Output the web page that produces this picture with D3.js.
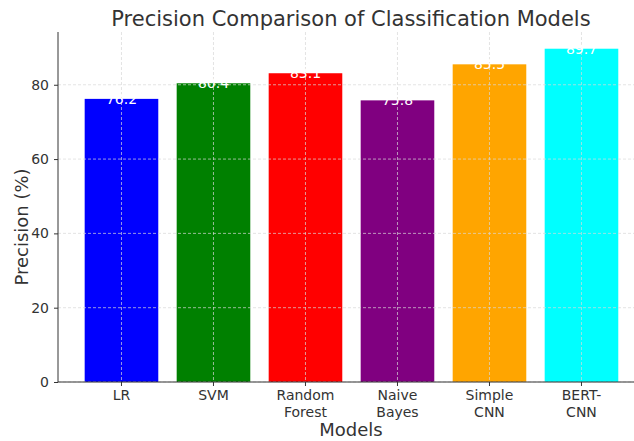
<!DOCTYPE html>
<html>
<head>
<meta charset="utf-8">
<script src="https://cdn.jsdelivr.net/npm/d3@7"></script>
<style>
html,body{margin:0;padding:0;background:#fff;}
svg{display:block;font-family:"DejaVu Sans",sans-serif;}
</style>
</head>
<body>
<svg id="chart" width="634" height="441"></svg>
<script>
const categories = ["LR", "SVM", "Random\nForest", "Naive\nBayes", "Simple\nCNN", "BERT-\nCNN"];
const precision = [76.2, 80.4, 83.1, 75.8, 85.5, 89.7];
const colors = ["blue", "green", "red", "purple", "orange", "cyan"];
const yTicks = [0, 20, 40, 60, 80];

const svg = d3.select("#chart");
const W = 634, H = 441;
const m = {left: 58, top: 32, bottom: 382};
const xMin = -0.69, xMax = 5.69;
const unit = 92;
const xLin = d3.scaleLinear().domain([xMin, xMax]).range([m.left, m.left + (xMax - xMin) * unit]);
const y = d3.scaleLinear().domain([0, 94.2]).range([m.bottom, m.top]);
const bw = 0.8;
const textColor = "#333";

// bars
svg.append("g").selectAll("rect").data(precision).join("rect")
  .attr("x", (d, i) => xLin(i - bw / 2))
  .attr("width", xLin(bw) - xLin(0))
  .attr("y", d => y(d))
  .attr("height", d => y(0) - y(d))
  .attr("fill", (d, i) => colors[i]);

// grid
const grid = svg.append("g").attr("stroke", "#d9d9d9").attr("stroke-width", 0.7).attr("stroke-dasharray", "3,2");
yTicks.forEach(t => {
  grid.append("line").attr("x1", m.left).attr("x2", W).attr("y1", y(t)).attr("y2", y(t));
});
categories.forEach((c, i) => {
  grid.append("line").attr("x1", xLin(i)).attr("x2", xLin(i)).attr("y1", m.top).attr("y2", m.bottom);
});

// value labels
svg.append("g").selectAll("text").data(precision).join("text")
  .attr("x", (d, i) => xLin(i))
  .attr("y", d => y(d) + 5)
  .attr("text-anchor", "middle")
  .attr("fill", "white")
  .attr("font-size", 14)
  .text(d => d.toFixed(1));

// axes
const yAxis = d3.axisLeft(y).tickValues(yTicks).tickSize(4).tickPadding(5);
const gy = svg.append("g").attr("transform", `translate(${m.left},0)`).call(yAxis);
gy.select(".domain").attr("stroke", "#333").attr("d", `M0,${m.bottom}V${m.top}`);
gy.selectAll(".tick line").attr("stroke", "#333");
gy.selectAll(".tick text").attr("fill", textColor).attr("font-size", 14).attr("font-family", "DejaVu Sans");

svg.append("line").attr("x1", m.left).attr("x2", W).attr("y1", m.bottom).attr("y2", m.bottom).attr("stroke", "#333");

// x tick labels
const xt = svg.append("g");
categories.forEach((c, i) => {
  xt.append("line").attr("x1", xLin(i)).attr("x2", xLin(i)).attr("y1", m.bottom).attr("y2", m.bottom + 4).attr("stroke", "#333");
  const t = xt.append("text").attr("x", xLin(i)).attr("y", m.bottom + 18)
    .attr("text-anchor", "middle").attr("fill", textColor).attr("font-size", 14);
  c.split("\n").forEach((line, j) => {
    t.append("tspan").attr("x", xLin(i)).attr("dy", j === 0 ? 0 : 17).text(line);
  });
});

// titles
svg.append("text").attr("x", 351).attr("y", 26).attr("text-anchor", "middle")
  .attr("fill", textColor).attr("font-size", 21).text("Precision Comparison of Classification Models");
svg.append("text").attr("x", 351).attr("y", 436).attr("text-anchor", "middle")
  .attr("fill", textColor).attr("font-size", 18).text("Models");
svg.append("text").attr("transform", `translate(28,${(m.top + m.bottom) / 2 + 20}) rotate(-90)`)
  .attr("text-anchor", "middle").attr("fill", textColor).attr("font-size", 18).text("Precision (%)");
</script>
</body>
</html>
